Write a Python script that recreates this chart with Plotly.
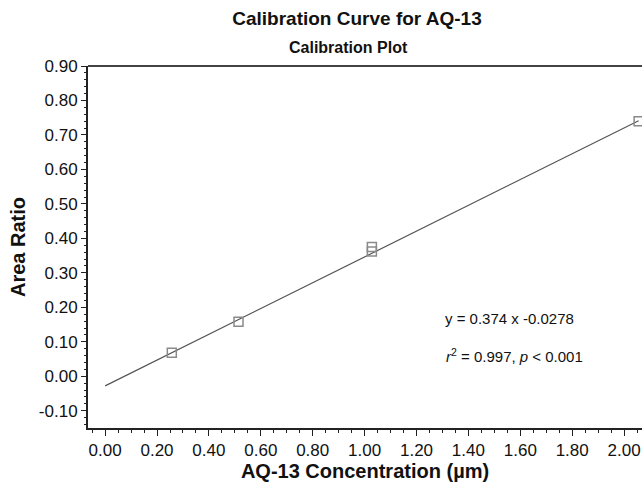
import plotly.graph_objects as go

# Data
conc = [0.257, 0.514, 1.028, 1.028, 2.056]
area_ratio = [0.068, 0.158, 0.362, 0.375, 0.740]
slope = 0.374
intercept = -0.0278
line_x = [0.0, 2.056]
line_y = [slope * v + intercept for v in line_x]

x_ticks = [0.0, 0.2, 0.4, 0.6, 0.8, 1.0, 1.2, 1.4, 1.6, 1.8, 2.0]
y_ticks = [-0.1, 0.0, 0.1, 0.2, 0.3, 0.4, 0.5, 0.6, 0.7, 0.8, 0.9]

FONT = "Liberation Sans, Arial, Helvetica, sans-serif"
W, H = 642, 483
L, R, T, B = 88, 0, 66, 55
PH = H - T - B
PW = W - L - R

fig = go.Figure()
fig.add_trace(go.Scatter(x=line_x, y=line_y, mode="lines",
                         line=dict(color="#555555", width=1.2),
                         hoverinfo="skip", showlegend=False))
fig.add_trace(go.Scatter(x=conc, y=area_ratio, mode="markers",
                         marker=dict(symbol="square-open", size=9,
                                     color="#8a8a8a", line=dict(width=1.5, color="#8a8a8a")),
                         showlegend=False))

fig.update_layout(
    width=W, height=H,
    margin=dict(l=L, r=R, t=T, b=B),
    paper_bgcolor="white", plot_bgcolor="white",
    font=dict(family=FONT, color="#111111"),
    title=dict(text="<b>Calibration Curve for AQ-13</b>", x=(357) / W, xanchor="center",
               y=1 - 18 / H, yanchor="middle", font=dict(size=19, family=FONT)),
)

fig.add_annotation(text="<b>Calibration Plot</b>", xref="paper", yref="paper",
                   x=(348 - L) / PW, y=1 + (T - 47) / PH, xanchor="center", yanchor="middle",
                   showarrow=False, font=dict(size=16, family=FONT))

fig.add_annotation(text="y = 0.374 x -0.0278", xref="paper", yref="paper",
                   x=(510 - L) / PW, y=(H - B - 318) / PH, xanchor="center", yanchor="middle",
                   showarrow=False, font=dict(size=15, family=FONT))
fig.add_annotation(text="<i>r</i><sup>2</sup> = 0.997, <i>p</i> < 0.001", xref="paper", yref="paper",
                   x=(514 - L) / PW, y=(H - B - 355) / PH, xanchor="center", yanchor="middle",
                   showarrow=False, font=dict(size=15, family=FONT))

# top border
fig.add_shape(type="line", xref="paper", yref="paper", x0=0, x1=1, y0=1, y1=1,
              line=dict(color="#444444", width=2))

fig.update_xaxes(range=[-0.066, 2.069], tickvals=x_ticks,
                 ticktext=[f"{v:.2f}" for v in x_ticks],
                 ticks="outside", ticklen=6, tickwidth=1, tickcolor="#222222",
                 showline=True, linecolor="#222222", linewidth=2,
                 showgrid=False, zeroline=False,
                 minor=dict(dtick=0.05, tick0=0, ticks="outside", ticklen=3, tickcolor="#222222"),
                 tickfont=dict(size=17, family=FONT),
                 title=dict(text="<b>AQ-13 Concentration (µm)</b>", font=dict(size=20, family=FONT), standoff=3))
fig.update_yaxes(range=[-0.15, 0.90], tickvals=y_ticks,
                 ticktext=[f"{v:.2f}" for v in y_ticks],
                 ticks="outside", ticklen=5, tickwidth=1, tickcolor="#222222",
                 showline=True, linecolor="#222222", linewidth=2,
                 showgrid=False, zeroline=False,
                 minor=dict(dtick=0.02, tick0=0, ticks="outside", ticklen=2, tickcolor="#222222"),
                 tickfont=dict(size=17, family=FONT),
                 title=dict(text="<b>Area Ratio</b>", font=dict(size=20, family=FONT), standoff=8))

fig.write_html("out.html", config={"displayModeBar": False},
               post_script="document.body.style.margin='0';document.body.style.overflow='hidden';")
